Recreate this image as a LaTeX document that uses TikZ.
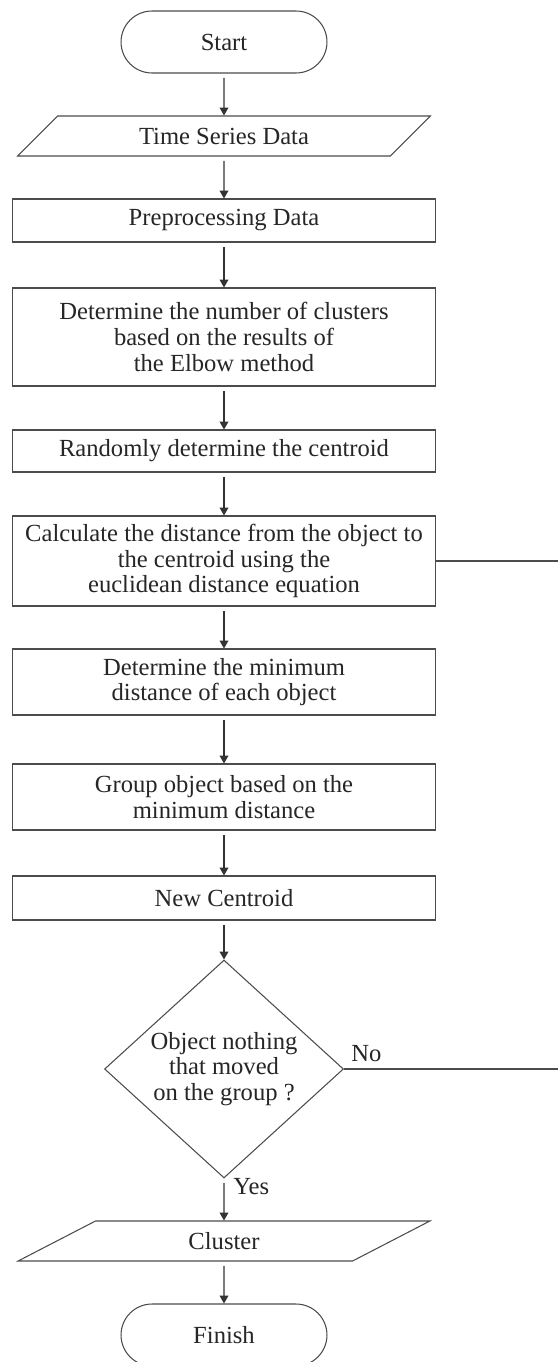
\documentclass[tikz,border=0pt]{standalone}
\usepackage{fontspec}
\setmainfont{Liberation Serif}
\usetikzlibrary{shapes.geometric,shapes.misc,arrows.meta,positioning}
\begin{document}
\begin{tikzpicture}[x=0.02cm,y=-0.02cm,
    font=\fontsize{14}{14.6}\selectfont,
    box/.style={draw=black!70, line width=0.6pt, text=black!85, align=center, inner sep=0pt},
    term/.style={box, rounded rectangle, minimum width=4.12cm, minimum height=1.24cm},
    iobox/.style={box, trapezium, trapezium left angle=39, trapezium right angle=141,
      trapezium stretches=true, minimum width=8.26cm, minimum height=0.8cm},
    proc/.style={box, rectangle, minimum width=8.46cm},
    decide/.style={box, diamond, aspect=1.1, minimum width=4.78cm, minimum height=4.36cm},
    flow/.style={draw=black!80, line width=0.6pt, -{Triangle[width=5pt,length=4.5pt]}, shorten <=2.5pt},
    back/.style={draw=black!70, line width=0.6pt},
    lbl/.style={text=black!85, inner sep=0pt}]
  \useasboundingbox[fill=white] (0,0) rectangle (558,1362);
  % main column
  \node[term]  (start)  at (224,42)   {Start};
  \node[iobox] (tsd)    at (224,136)  {Time Series Data};
  \node[proc, minimum height=0.86cm] (prep)  at (224,220.5) {Preprocessing Data};
  \node[proc, minimum height=1.96cm] (nclus) at (224,337)
    {Determine the number of clusters\\based on the results of\\the Elbow method};
  \node[proc, minimum height=0.84cm] (rand)  at (224,451) {Randomly determine the centroid};
  \node[proc, minimum height=1.8cm]  (calc)  at (224,561)
    {Calculate the distance from the object to\\the centroid using the\\euclidean distance equation};
  \node[proc, minimum height=1.32cm] (mind)  at (224,682)
    {Determine the minimum\\distance of each object};
  \node[proc, minimum height=1.32cm] (group) at (224,797)
    {Group object based on the\\minimum distance};
  \node[proc, minimum height=0.88cm] (newc)  at (224,898) {New Centroid};
  \node[decide] (check) at (224,1069)
    {Object nothing\\that moved\\on the group ?};
  \node[iobox] (clus)   at (224,1241) {Cluster};
  \node[term]  (finish) at (224,1335) {Finish};
  % loop back ends
  \coordinate (calcend)  at (558,561);
  \coordinate (checkend) at (558,1069);
  \draw[flow] (start) -- (tsd);
  \draw[flow] (tsd) -- (prep);
  \draw[flow] (prep) -- (nclus);
  \draw[flow] (nclus) -- (rand);
  \draw[flow] (rand) -- (calc);
  \draw[flow] (calc) -- (mind);
  \draw[flow] (mind) -- (group);
  \draw[flow] (group) -- (newc);
  \draw[flow] (newc) -- (check);
  \draw[flow] (check) -- node[lbl, right=5pt, pos=0.2] (yes) {Yes} (clus);
  \draw[flow] (clus) -- (finish);
  \draw[back] (calc.east) -- (calcend);
  \draw[back] (check.east) -- (checkend);
  \node[lbl, above right=4pt and 4pt of check.east] (no) {No};
\end{tikzpicture}
\end{document}
